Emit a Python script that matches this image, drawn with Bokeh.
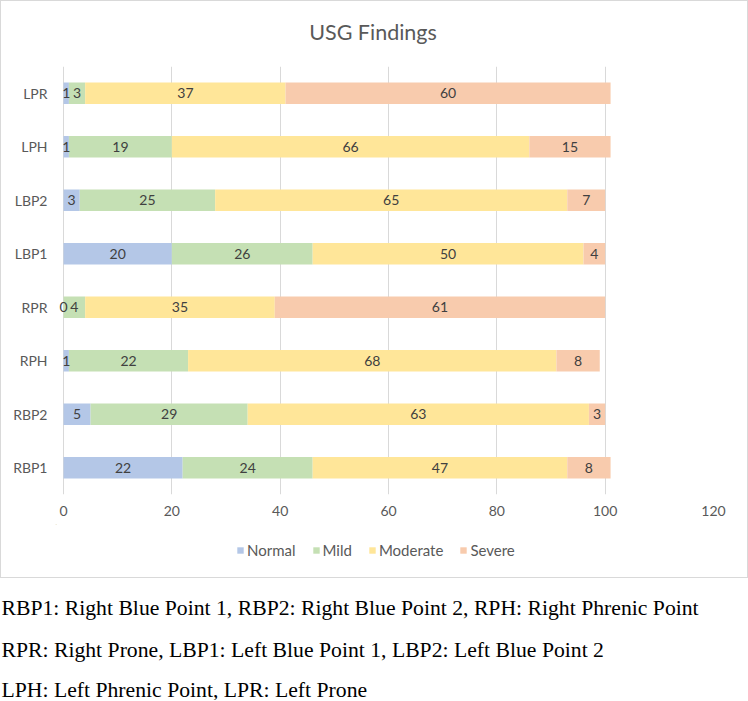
import numpy as np
from bokeh.plotting import figure
from bokeh.layouts import column
from bokeh.models import (ColumnDataSource, FactorRange, Range1d, FixedTicker,
                          Label, Legend, LegendItem)
from bokeh.core.properties import value
from bokeh.embed import file_html
from bokeh.resources import INLINE

# ---- data ----
categories = ["RBP1", "RBP2", "RPH", "RPR", "LBP1", "LBP2", "LPH", "LPR"]
normal = [22, 5, 1, 0, 20, 3, 1, 1]
mild = [24, 29, 22, 4, 26, 25, 19, 3]
moderate = [47, 63, 68, 35, 50, 65, 66, 37]
severe = [8, 3, 8, 61, 4, 7, 15, 60]
series_names = ["Normal", "Mild", "Moderate", "Severe"]
series_colors = ["#b4c7e7", "#c5e0b4", "#ffe699", "#f8cbad"]
x_ticks = [0, 20, 40, 60, 80, 100, 120]
title_text = "USG Findings"
footnotes = [
    "RBP1: Right Blue Point 1, RBP2: Right Blue Point 2, RPH: Right Phrenic Point",
    "RPR: Right Prone, LBP1: Left Blue Point 1, LBP2: Left Blue Point 2",
    "LPH: Left Phrenic Point, LPR: Left Prone",
]

FONT = "Lato"
GREY = "#595959"
INNER_W = 746
BL, BR = 54, 34            # shared left/right borders of the chart block


def strip_fig(w, h, bl=0, br=0):
    f = figure(width=w, height=h, x_range=Range1d(bl, w - br), y_range=Range1d(h, 0),
               x_axis_location=None, y_axis_location=None,
               output_backend="svg", toolbar_location=None,
               min_border_left=bl, min_border_right=br, min_border_top=0,
               min_border_bottom=0)
    f.outline_line_color = None
    f.xgrid.grid_line_color = None
    f.ygrid.grid_line_color = None
    return f


# ---- title strip ----
p_title = strip_fig(INNER_W, 65, BL, BR)
p_title.add_layout(Label(x=371.5, y=30, text=title_text, text_align="center",
                         text_baseline="middle", text_font=FONT,
                         text_font_size="21.5px", text_color=GREY))

# ---- main chart ----
X0 = -8 * 120 / 650
src = ColumnDataSource(dict(cat=categories, Normal=normal, Mild=mild,
                            Moderate=moderate, Severe=severe))
p = figure(width=INNER_W, height=458, y_range=FactorRange(*categories),
           x_range=Range1d(X0, 120), output_backend="svg", toolbar_location=None,
           min_border_left=BL, min_border_right=BR, min_border_top=0,
           min_border_bottom=30)
p.outline_line_color = None

renderers = p.hbar_stack(series_names, y="cat", height=0.4, source=src,
                         fill_color=series_colors, line_color=None)

vals = np.array([normal, mild, moderate, severe], dtype=float)
cum = np.cumsum(vals, axis=0)
mids = cum - vals / 2
lx, ly, lt = [], [], []
for si in range(len(series_names)):
    for ci, c in enumerate(categories):
        lx.append(mids[si, ci])
        ly.append(c)
        lt.append(str(int(vals[si, ci])))
lsrc = ColumnDataSource(dict(x=lx, y=ly, t=lt))
p.text(x="x", y="y", text="t", source=lsrc, text_align="center",
       text_baseline="middle", text_font=value(FONT), text_font_size="14px",
       text_color="#404040")

p.xaxis.ticker = FixedTicker(ticks=x_ticks)
p.xgrid.ticker = FixedTicker(ticks=x_ticks)
p.xgrid.grid_line_color = "#d9d9d9"
p.ygrid.grid_line_color = None
for ax in (p.xaxis[0], p.yaxis[0]):
    ax.axis_line_color = None
    ax.major_tick_line_color = None
    ax.minor_tick_line_color = None
    ax.major_tick_out = 0
    ax.major_tick_in = 0
    ax.minor_tick_out = 0
    ax.major_label_text_font = FONT
    ax.major_label_text_font_size = "14px"
    ax.major_label_text_color = GREY
p.xaxis.major_label_standoff = 11
p.yaxis.major_label_standoff = 8

# ---- legend strip ----
p_leg = strip_fig(INNER_W, 53, BL, BR)
# legend swatches: one off-canvas bar per series so the legend has a glyph to draw
leg_renderers = [p_leg.hbar(y=[-100], left=[BL], right=[BL + 1], height=1,
                            fill_color=c, line_color=None)
                 for c in series_colors]
items = [LegendItem(label=n, renderers=[r]) for n, r in zip(series_names, leg_renderers)]
legend = Legend(items=items, orientation="horizontal", location=(235 - BL, 17),
                border_line_color=None, background_fill_alpha=0, padding=0,
                margin=0, spacing=16, glyph_width=8, glyph_height=8,
                label_standoff=3, label_height=20, label_text_font=FONT,
                label_text_font_size="15px", label_text_color=GREY)
p_leg.add_layout(legend)

# ---- footnotes ----
p_foot = strip_fig(748, 122)
for t, yy in zip(footnotes, [29, 71, 111]):
    p_foot.add_layout(Label(x=1, y=yy, text=t, text_align="left",
                            text_baseline="middle", text_font="Liberation Serif",
                            text_font_size="21.7px", text_color="black"))

block = column(p_title, p, p_leg, spacing=0,
               styles={"border": "1px solid #d9d9d9"})
page = column(block, p_foot, spacing=0)

open("out.html", "w").write(file_html(page, INLINE))
